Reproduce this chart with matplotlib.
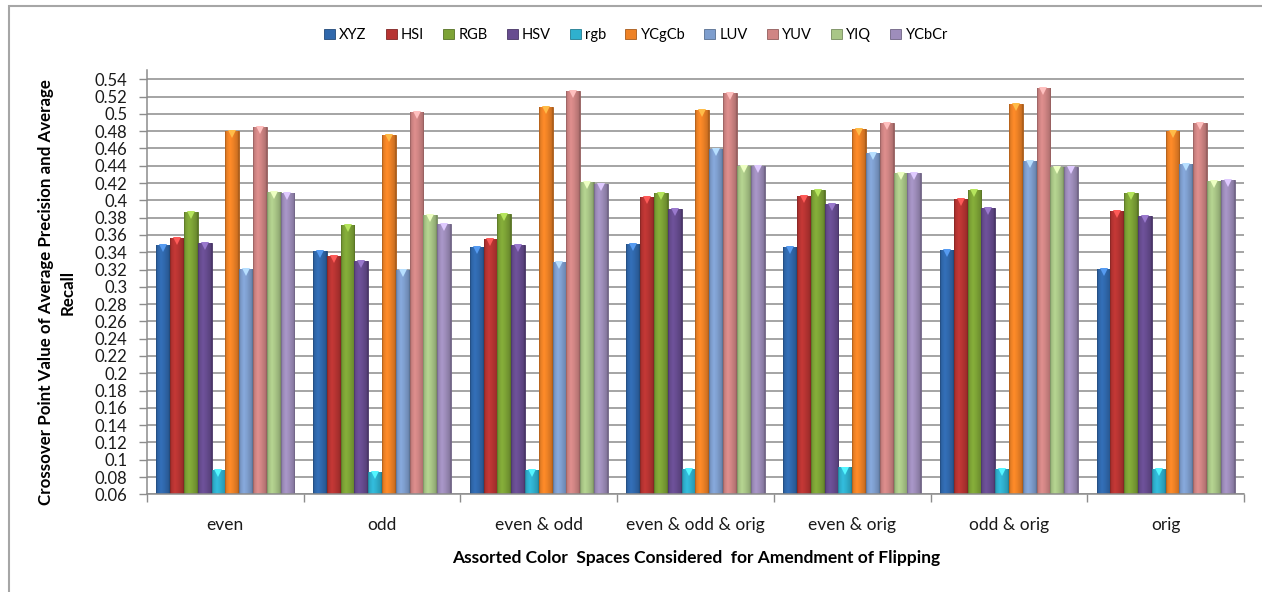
import numpy as np
import matplotlib
matplotlib.use("Agg")
import matplotlib.pyplot as plt
from matplotlib.colors import to_rgb
from matplotlib.patches import Patch, Rectangle

plt.rcParams["font.family"] = ["Lato", "DejaVu Sans"]

groups = ["even", "odd", "even & odd", "even & odd & orig", "even & orig", "odd & orig", "orig"]
spaces = ["XYZ", "HSI", "RGB", "HSV", "rgb", "YCgCb", "LUV", "YUV", "YIQ", "YCbCr"]

XYZ = [0.348, 0.341, 0.346, 0.350, 0.346, 0.343, 0.321]
HSI = [0.357, 0.336, 0.355, 0.404, 0.405, 0.402, 0.388]
RGB = [0.387, 0.372, 0.384, 0.409, 0.412, 0.412, 0.409]
HSV = [0.351, 0.330, 0.348, 0.390, 0.396, 0.391, 0.382]
rgb = [0.088, 0.086, 0.088, 0.089, 0.091, 0.089, 0.089]
YCgCb = [0.480, 0.476, 0.508, 0.505, 0.483, 0.511, 0.480]
LUV = [0.321, 0.319, 0.329, 0.459, 0.455, 0.445, 0.442]
YUV = [0.485, 0.502, 0.526, 0.524, 0.490, 0.530, 0.490]
YIQ = [0.410, 0.383, 0.421, 0.440, 0.432, 0.439, 0.422]
YCbCr = [0.409, 0.373, 0.419, 0.440, 0.432, 0.439, 0.423]

series = [XYZ, HSI, RGB, HSV, rgb, YCgCb, LUV, YUV, YIQ, YCbCr]
colors = ["#3068AC", "#B73432", "#7DA336", "#674C90", "#2FB0CE",
          "#EE8226", "#7E9ECE", "#D08584", "#A9C687", "#9E8DBB"]

yticks = np.round(np.arange(0.06, 0.5401, 0.02), 2)
ymin, ymax = 0.06, 0.5504


def shaded(color, n=24):
    # left-to-right shading so the bars look rounded
    base = np.array(to_rgb(color))
    t = np.linspace(0, 1, n)
    k = np.interp(t, [0, 0.08, 0.35, 0.6, 0.92, 1.0], [0.72, 0.95, 1.08, 1.0, 0.86, 0.7])
    row = np.clip(base[None, :] * k[:, None], 0, 1)
    return row[None, :, :]


fig = plt.figure(figsize=(12.62, 5.92), dpi=100)
fig.patches.append(Rectangle((9 / 1262, -0.05), 1.2, 1 - 6 / 592 + 0.05,
                             transform=fig.transFigure, fill=False,
                             edgecolor="#a6a6a6", linewidth=1.5))

ax = fig.add_axes([147 / 1262, 1 - 494.3 / 592, (1244 - 147) / 1262, (494.3 - 70.3) / 592])

width = 0.0881
x = np.arange(len(groups)) + 0.5
for k, (vals, c) in enumerate(zip(series, colors)):
    pos = x + (k - 4.5) * width
    bars = ax.bar(pos, vals, width, color=c, edgecolor=np.array(to_rgb(c)) * 0.7,
                  linewidth=0.6, zorder=2)
    img = shaded(c)
    for b in bars:
        im = ax.imshow(img, extent=[b.get_x(), b.get_x() + b.get_width(), ymin, b.get_height()],
                       aspect="auto", zorder=2.1, interpolation="bilinear")
        im.set_clip_path(b)
    # small bevel at the top of each bar
    ax.plot(pos, np.array(vals) - 0.0035, linestyle="none", marker="v", markersize=5.5,
            color=np.clip(np.array(to_rgb(c)) * 1.25 + 0.1, 0, 1), markeredgewidth=0, zorder=3)

ax.set_xlim(0, 7)
ax.set_ylim(ymin, ymax)
ax.set_yticks(yticks)
ax.set_yticklabels([f"{v:g}" for v in yticks])
ax.set_xticks(x)
ax.set_xticklabels(groups)
ax.set_xticks(np.arange(0, 8), minor=True)

ax.set_axisbelow(True)
ax.yaxis.grid(True, color="#8c8c8c", linewidth=1.1)
for side in ["top", "right"]:
    ax.spines[side].set_visible(False)
for side in ["left", "bottom"]:
    ax.spines[side].set_color("#8c8c8c")
    ax.spines[side].set_linewidth(1.1)

ax.tick_params(axis="y", direction="out", length=6, width=1, color="#8c8c8c", pad=8,
               labelsize=12, labelcolor="#1a1a1a")
ax.tick_params(axis="x", which="major", length=0, pad=16, labelsize=12.5, labelcolor="#1a1a1a")
ax.tick_params(axis="x", which="minor", direction="out", length=6, width=1, color="#8c8c8c")

fig.text(56.5 / 1262, 1 - 292 / 592,
         "Crossover Point Value of Average Precision and Average\nRecall",
         rotation=90, ha="center", va="center", multialignment="center",
         fontsize=12.2, fontweight="bold", linespacing=1.45)
fig.text(696 / 1262, 1 - 558 / 592, "Assorted Color  Spaces Considered  for Amendment of Flipping",
         ha="center", va="center", fontsize=12.5, fontweight="bold")

handles = [Patch(facecolor=c, edgecolor=np.array(to_rgb(c)) * 0.7, linewidth=0.6) for c in colors]
fig.legend(handles, spaces, loc="center", bbox_to_anchor=(636 / 1262, 1 - 35 / 592),
           ncol=10, frameon=False, fontsize=10.5, handlelength=0.75, handleheight=0.75,
           handletextpad=0.3, columnspacing=1.3)

fig.savefig("out.png", dpi=100)
